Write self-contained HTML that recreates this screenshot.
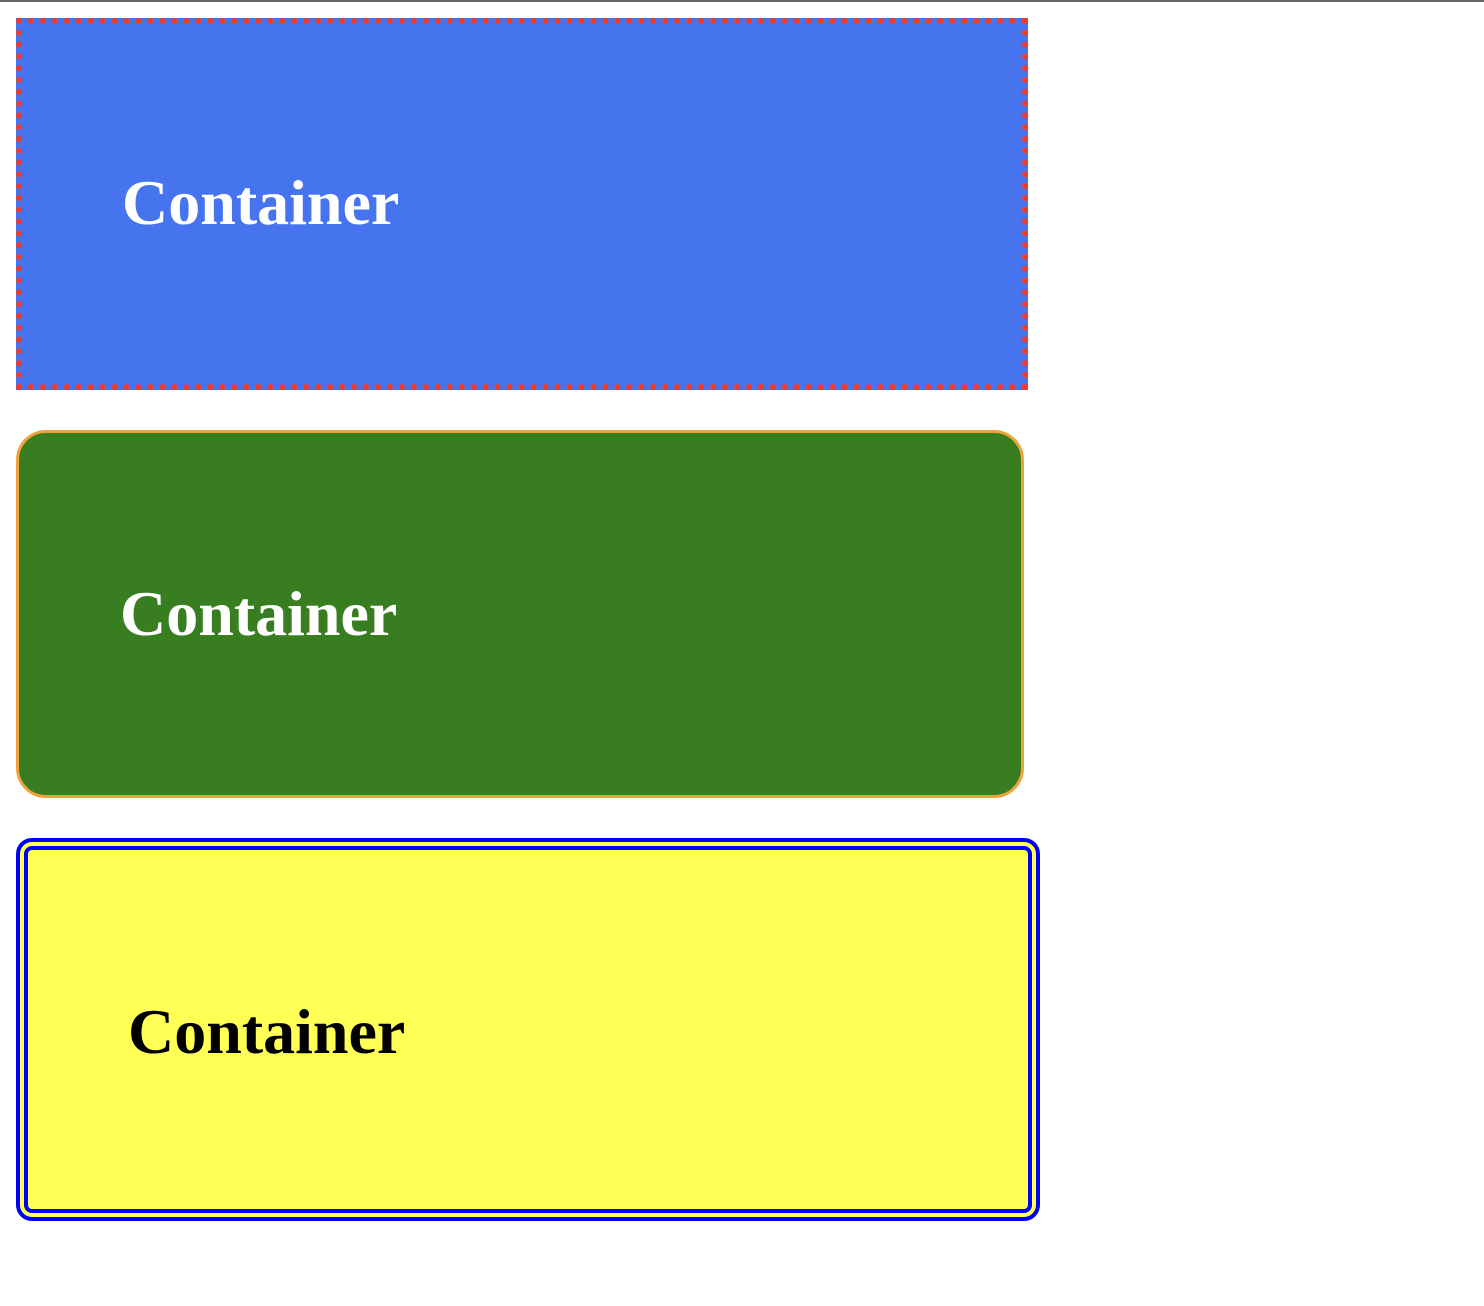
<!DOCTYPE html>
<html><head><style>
body{margin:0;width:1484px;height:1306px;background:#fff;position:relative;font-family:"Liberation Serif",serif;}
.top{position:absolute;left:0;top:0;width:1484px;height:2px;background:#666;}
.b{position:absolute;box-sizing:border-box;font-weight:bold;font-size:64px;}
.b span{position:absolute;}
</style></head><body>
<div class="top"></div>
<div class="b" style="left:16px;top:18px;width:1012px;height:372px;background:#4674ef;border:6px dotted #ee3b2a;color:#fff"><span style="left:100px;top:142px">Container</span></div>
<div class="b" style="left:16px;top:430px;width:1008px;height:368px;background:#397d21;border:3px solid #f0a33a;border-radius:30px;color:#fff"><span style="left:101px;top:144px">Container</span></div>
<div class="b" style="left:16px;top:838px;width:1024px;height:383px;background:#ffff55;border:12px double #0000f5;border-radius:16px;color:#000"><span style="left:100px;top:145px">Container</span></div>
</body></html>
